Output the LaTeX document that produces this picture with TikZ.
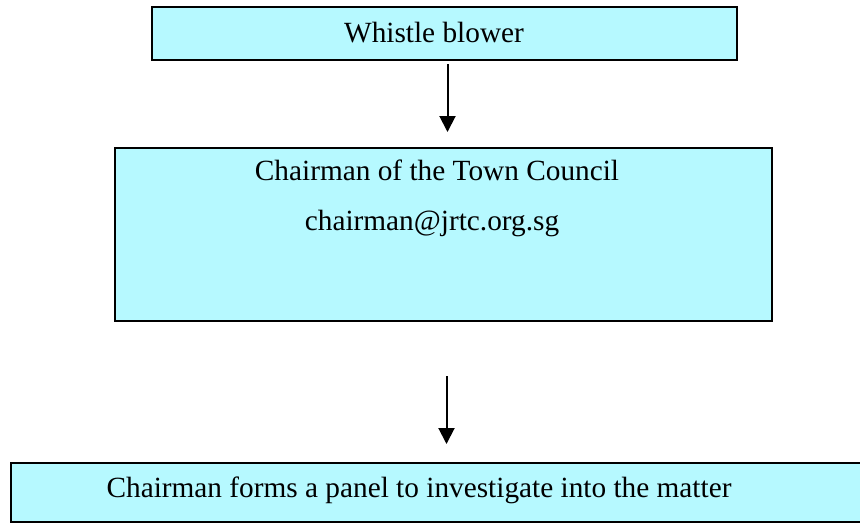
\documentclass[tikz,border=0pt]{standalone}
\usepackage{fontspec}
\setmainfont{Liberation Serif}
\usetikzlibrary{arrows.meta}
\definecolor{boxcyan}{RGB}{182,249,255}

\begin{document}
\begin{tikzpicture}[x=1pt, y=1pt, box/.style = {draw, line width=2pt, fill=boxcyan, inner sep=0pt}, txt/.style = {font=\fontsize{29.3}{35}\selectfont, inner sep=0pt, anchor=base}, arr/.style = {line width=2pt, -{Triangle[width=16pt,length=16pt]}}]
    \useasboundingbox (0,0) rectangle (860,-523);
    \clip (0,0) rectangle (860,-523);
    \node[box, minimum width=585pt, minimum height=53pt] (1) at (444.5,-33.5) {};
    \node[box, minimum width=657pt, minimum height=173pt] (2) at (443.5,-234.5) {};
    \node[box, minimum width=870pt, minimum height=59pt] (3) at (446,-492.5) {};
    \node[txt] (w) at (434,-42) {Whistle blower};
    \node[txt] (c) at (437,-180) {Chairman of the Town Council};
    \node[txt] (e) at (432,-230) {chairman@jrtc.org.sg};
    \node[txt] (p) at (419,-497) {Chairman forms a panel to investigate into the matter};
    \draw[arr, shorten <=3pt, shorten >=15pt] ([xshift=3pt]1.south) -- ([xshift=3pt]1.south |- 2.north);
    \draw[arr, shorten <=54pt, shorten >=18pt] ([xshift=3pt]2.south) -- ([xshift=3pt]2.south |- 3.north);
\end{tikzpicture}
\end{document}
